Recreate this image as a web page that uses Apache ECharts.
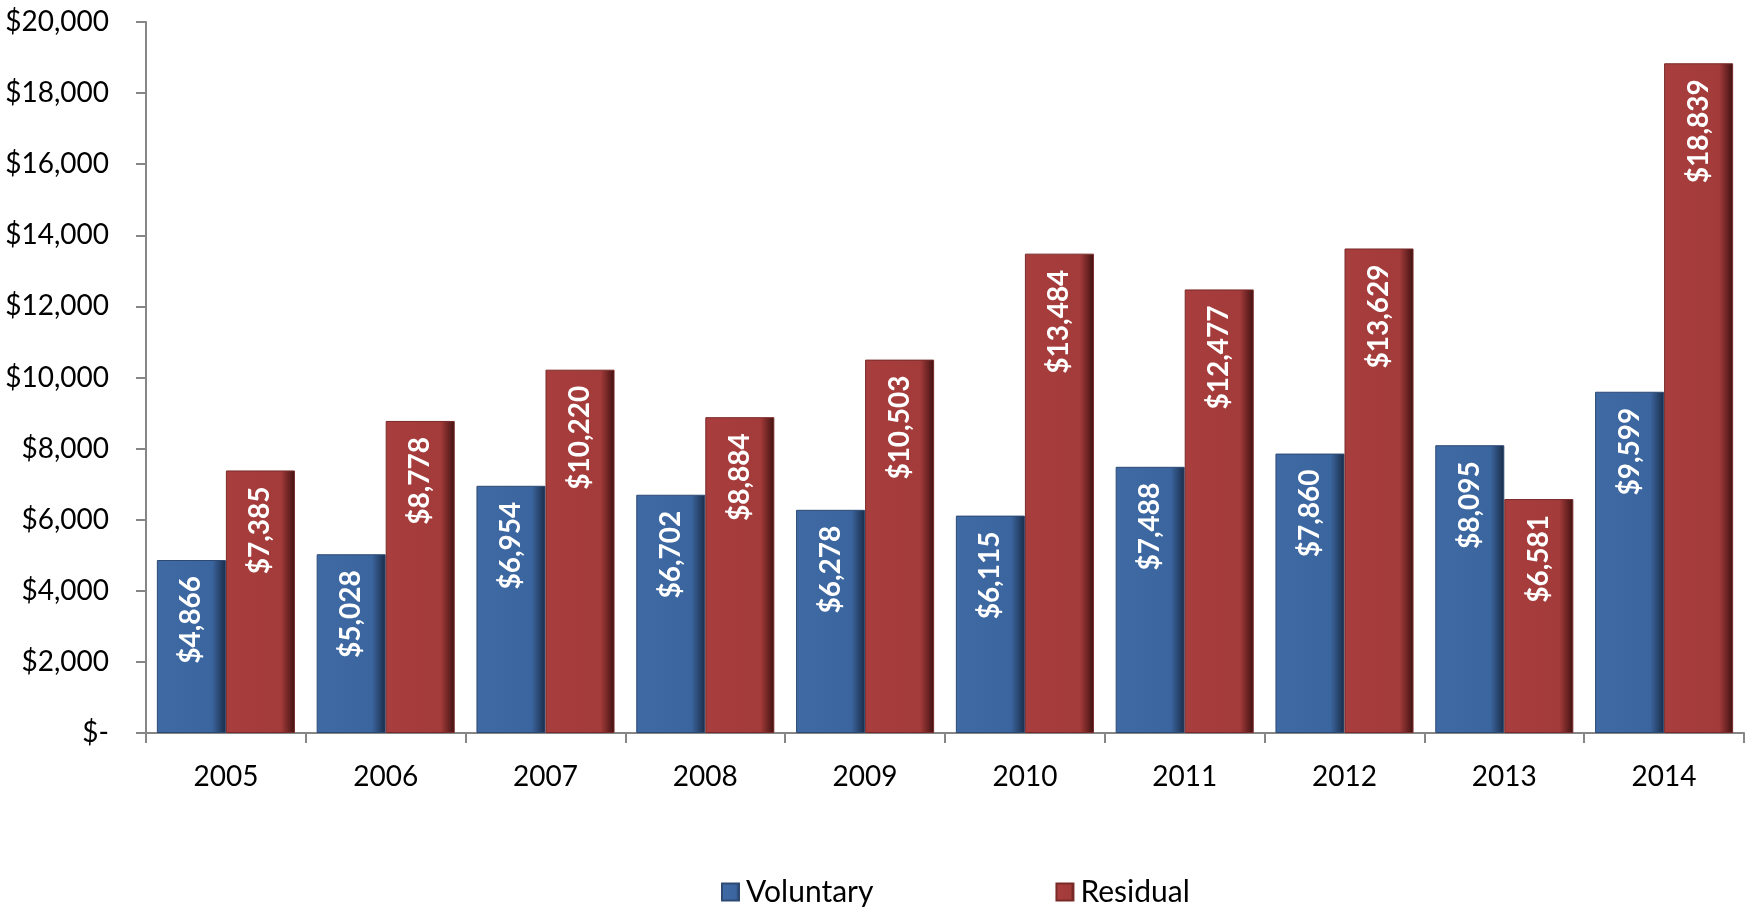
<!DOCTYPE html>
<html>
<head>
<meta charset="utf-8">
<script src="https://cdn.jsdelivr.net/npm/echarts@6/dist/echarts.min.js"></script>
<style>html,body{margin:0;padding:0;background:#fff}#c{width:1748px;height:907px}</style>
</head>
<body>
<div id="c"></div>
<script>
const years = ['2005','2006','2007','2008','2009','2010','2011','2012','2013','2014'];
const voluntary = [4866, 5028, 6954, 6702, 6278, 6115, 7488, 7860, 8095, 9599];
const residual = [7385, 8778, 10220, 8884, 10503, 13484, 12477, 13629, 6581, 18839];
const seriesNames = ['Voluntary', 'Residual'];

const chart = echarts.init(document.getElementById('c'));
const fmt = v => v === 0 ? '$-' : '$' + v.toLocaleString('en-US');
const grad = (a, b, c) => new echarts.graphic.LinearGradient(0, 0, 1, 0, [
  {offset: 0, color: a}, {offset: 0.8, color: b}, {offset: 1, color: c}
]);
const labelStyle = {
  show: true, position: 'insideTop', rotate: 90, align: 'right', verticalAlign: 'middle',
  distance: 16, color: '#fff', fontFamily: 'Lato', fontWeight: 'bold', fontSize: 28,
  formatter: p => fmt(p.value)
};
chart.setOption({
  animation: false,
  grid: {left: 146, right: 4, top: 22, bottom: 174},
  legend: {
    data: seriesNames, left: 716, top: 872, icon: 'rect', itemWidth: 17, itemHeight: 17,
    itemGap: 182, textStyle: {fontFamily: 'Lato', fontSize: 30, color: '#000', padding: [0, 0, 0, 2]}
  },
  xAxis: {
    type: 'category', data: years,
    axisLine: {lineStyle: {color: '#868686', width: 2}},
    axisTick: {show: true, length: 10, lineStyle: {color: '#868686', width: 2}},
    axisLabel: {fontFamily: 'Lato', fontSize: 28, color: '#000', margin: 30}
  },
  yAxis: {
    type: 'value', min: 0, max: 20000, interval: 2000,
    axisLine: {show: true, lineStyle: {color: '#868686', width: 2}},
    axisTick: {show: true, length: 10, lineStyle: {color: '#868686', width: 2}},
    splitLine: {show: false},
    axisLabel: {fontFamily: 'Lato', fontSize: 28, color: '#000', margin: 37, formatter: fmt}
  },
  series: [
    {
      name: seriesNames[0], type: 'bar', data: voluntary, barGap: '0%', barCategoryGap: '13.6%',
      itemStyle: {color: grad('#3f6aa4', '#3b659e', '#1a2c48'), borderColor: '#2c4a74', borderWidth: 1},
      label: labelStyle
    },
    {
      name: seriesNames[1], type: 'bar', data: residual, barGap: '0%', barCategoryGap: '13.6%',
      itemStyle: {color: grad('#a83e3d', '#a23b3a', '#3f1110'), borderColor: '#7a2a29', borderWidth: 1},
      label: labelStyle
    }
  ]
});
</script>
</body>
</html>
